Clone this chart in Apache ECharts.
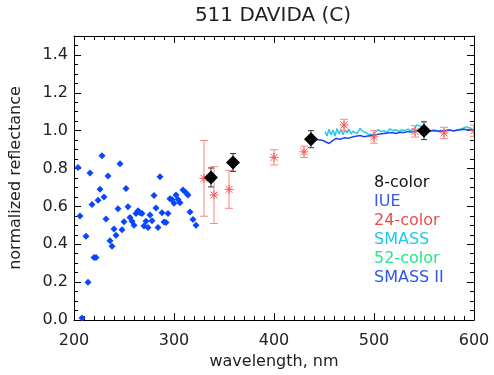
<!DOCTYPE html>
<html>
<head>
<meta charset="utf-8">
<script src="https://cdn.jsdelivr.net/npm/echarts@6/dist/echarts.min.js"></script>
<style>
  html, body { margin: 0; padding: 0; background: #fff; }
  #chart { width: 494px; height: 375px; }
</style>
</head>
<body>
<div id="chart"></div>
<script>
// IUE spectrum points (wavelength nm, normalized reflectance)
const iueWl = [204, 206, 208, 212, 214, 216, 218, 220, 222, 224, 226, 228, 230, 232, 234, 236, 238, 240,
  242, 244, 246, 248, 250, 252, 254, 256, 258, 260, 262, 264, 266, 268, 270, 272, 274, 276, 278, 280,
  282, 284, 286, 288, 290, 292, 294, 296, 298, 300, 302, 304, 306, 309, 312, 314, 316, 319, 322];
const iueRefl = [0.806, 0.549, 0.01, 0.443, 0.199, 0.777, 0.61, 0.33, 0.33, 0.633, 0.69, 0.867, 0.65, 0.533,
  0.76, 0.418, 0.39, 0.48, 0.447, 0.587, 0.825, 0.477, 0.519, 0.695, 0.598, 0.542, 0.522, 0.501, 0.563,
  0.577, 0.566, 0.563, 0.496, 0.522, 0.489, 0.554, 0.524, 0.658, 0.591, 0.489, 0.756, 0.566, 0.517,
  0.515, 0.563, 0.64, 0.637, 0.616, 0.66, 0.637, 0.619, 0.686, 0.672, 0.66, 0.571, 0.531, 0.501];

// 8-color photometry
const eightWl = [337, 359, 437, 550];
const eightRefl = [0.753, 0.832, 0.955, 1.0];
const eightErr = [0.05, 0.047, 0.045, 0.047];

// 24-color photometry
const c24Wl = [330, 340, 355, 400, 430, 470, 500, 541, 570, 600];
const c24Refl = [0.748, 0.66, 0.69, 0.859, 0.888, 1.03, 0.967, 0.996, 0.988, 1.0];
const c24Err = [0.2, 0.15, 0.1, 0.04, 0.03, 0.03, 0.033, 0.03, 0.03, 0.03];

// SMASS spectrum
const smassWl = [451, 453, 455, 457, 459, 461, 463, 465, 467, 469, 471, 473, 475, 477, 479, 481, 483, 486,
  489, 492, 495, 498, 501, 504, 507, 510, 513, 516, 519, 522, 525, 528, 531, 534, 537, 540, 543, 546,
  549, 552, 556, 560, 564, 568, 572, 576, 580, 584, 588, 592, 595, 598, 600];
const smassRefl = [0.995, 0.972, 1.008, 0.978, 1.002, 0.972, 1.012, 0.982, 1.008, 0.978, 1.003, 0.988, 1.008,
  0.982, 0.998, 1.004, 0.984, 1.012, 0.995, 0.99, 0.98, 0.978, 0.99, 1.005, 0.995, 1.0, 0.99, 1.01, 1.0,
  1.005, 0.995, 1.005, 1.0, 1.008, 1.0, 1.01, 1.03, 1.025, 1.02, 1.005, 0.995, 1.0, 0.995, 1.0, 1.0,
  1.002, 0.998, 1.005, 1.01, 1.02, 1.015, 1.005, 1.0];

// SMASS II spectrum
const smass2Wl = [437, 441, 445, 449, 452, 455, 458, 462, 466, 470, 474, 478, 482, 486, 490, 494, 498, 502,
  506, 510, 514, 518, 522, 526, 530, 534, 538, 542, 546, 550, 555, 560, 565, 570, 575, 580, 585, 590, 595, 600];
const smass2Refl = [0.962, 0.955, 0.952, 0.948, 0.94, 0.932, 0.945, 0.959, 0.955, 0.962, 0.96, 0.966, 0.97,
  0.974, 0.968, 0.972, 0.975, 0.978, 0.982, 0.985, 0.988, 0.99, 0.985, 0.992, 0.99, 0.995, 0.993, 0.998,
  1.005, 1.0, 0.998, 1.002, 0.997, 1.0, 1.003, 1.0, 1.004, 1.008, 1.003, 1.005];

const legendItems = ["8-color", "IUE", "24-color", "SMASS", "52-color", "SMASS II"];
const legendColors = ["#111111", "#3a5be0", "#f04848", "#22c8ea", "#22e888", "#2f55e8"];

const yTicks = [0, 0.2, 0.4, 0.6, 0.8, 1.0, 1.2, 1.4];

const font = "DejaVu Sans";
const zip = (a, b, c) => a.map((v, i) => (c ? [v, b[i], c[i]] : [v, b[i]]));

function errorBars(color, cap, star) {
  return function (params, api) {
    const x = api.value(0), y = api.value(1), e = api.value(2);
    const top = api.coord([x, y + e]);
    const bot = api.coord([x, y - e]);
    const mid = api.coord([x, y]);
    const st = { stroke: color, lineWidth: 1 };
    const kids = [
      { type: "line", shape: { x1: top[0], y1: top[1], x2: bot[0], y2: bot[1] }, style: st },
      { type: "line", shape: { x1: top[0] - cap, y1: top[1], x2: top[0] + cap, y2: top[1] }, style: st },
      { type: "line", shape: { x1: bot[0] - cap, y1: bot[1], x2: bot[0] + cap, y2: bot[1] }, style: st }
    ];
    if (star) {
      const r = 4.5, d = 3.5;
      const s2 = { stroke: "#ff5050", lineWidth: 1 };
      kids.push(
        { type: "line", shape: { x1: mid[0], y1: mid[1] - r, x2: mid[0], y2: mid[1] + r }, style: s2 },
        { type: "line", shape: { x1: mid[0] - r, y1: mid[1], x2: mid[0] + r, y2: mid[1] }, style: s2 },
        { type: "line", shape: { x1: mid[0] - d, y1: mid[1] - d, x2: mid[0] + d, y2: mid[1] + d }, style: s2 },
        { type: "line", shape: { x1: mid[0] - d, y1: mid[1] + d, x2: mid[0] + d, y2: mid[1] - d }, style: s2 }
      );
    }
    return { type: "group", children: kids };
  };
}

const axisCommon = {
  type: "value",
  axisLine: { show: true, onZero: false, lineStyle: { color: "#000", width: 1 } },
  axisTick: { show: true, inside: true, length: 7, lineStyle: { color: "#000" } },
  minorTick: { show: true, length: 4, lineStyle: { color: "#000" } },
  splitLine: { show: false },
  minorSplitLine: { show: false }
};

const chart = echarts.init(document.getElementById("chart"));
chart.setOption({
  animation: false,
  backgroundColor: "#fff",
  grid: { left: 73, right: 20, top: 36, bottom: 55 },
  xAxis: [
    Object.assign({}, axisCommon, {
      min: 200, max: 600, interval: 100,
      minorTick: Object.assign({}, axisCommon.minorTick, { splitNumber: 10 }),
      name: "wavelength, nm", nameLocation: "middle", nameGap: 26,
      nameTextStyle: { fontFamily: font, fontSize: 16, color: "#222" },
      axisLabel: { margin: 13, fontFamily: font, fontSize: 16, color: "#222" }
    }),
    Object.assign({}, axisCommon, {
      position: "top", min: 200, max: 600, interval: 100,
      minorTick: Object.assign({}, axisCommon.minorTick, { splitNumber: 10 }),
      axisLabel: { show: false }
    })
  ],
  yAxis: [
    Object.assign({}, axisCommon, {
      min: 0, max: 1.5, interval: 0.2,
      minorTick: Object.assign({}, axisCommon.minorTick, { splitNumber: 4 }),
      name: "normalized reflectance", nameLocation: "middle", nameGap: 50,
      nameTextStyle: { fontFamily: font, fontSize: 16, color: "#222" },
      axisLabel: {
        margin: 6, fontFamily: font, fontSize: 16, color: "#222", showMaxLabel: false,
        formatter: (v) => (yTicks.some((t) => Math.abs(t - v) < 1e-6) ? v.toFixed(1) : "")
      }
    }),
    Object.assign({}, axisCommon, {
      position: "right", min: 0, max: 1.5, interval: 0.2,
      minorTick: Object.assign({}, axisCommon.minorTick, { splitNumber: 4 }),
      axisLabel: { show: false }
    })
  ],
  graphic: [
    {
      type: "text", x: 273, y: 16,
      style: { text: "511 DAVIDA (C)", font: "20px " + font, fill: "#222", textAlign: "center", textVerticalAlign: "middle" }
    }
  ].concat(legendItems.map((t, i) => ({
    type: "text", x: 374, y: 183 + i * 19,
    style: { text: t, font: "16px " + font, fill: legendColors[i], textAlign: "left", textVerticalAlign: "middle" }
  }))),
  series: [
    {
      name: "IUE", type: "scatter", data: zip(iueWl, iueRefl),
      symbol: "diamond", symbolSize: 7, itemStyle: { color: "#0a46ff", opacity: 1 }, z: 2
    },
    {
      name: "SMASS", type: "line", data: zip(smassWl, smassRefl), showSymbol: false,
      lineStyle: { color: "#1ccdf0", width: 1.5 }, z: 3
    },
    {
      name: "SMASS II", type: "line", data: zip(smass2Wl, smass2Refl), showSymbol: false,
      lineStyle: { color: "#1f45ee", width: 1.5 }, z: 4
    },
    {
      name: "24-color", type: "custom", data: zip(c24Wl, c24Refl, c24Err),
      renderItem: errorBars("#f08a8a", 4, true), clip: true, z: 5
    },
    {
      name: "8-color err", type: "custom", data: zip(eightWl, eightRefl, eightErr),
      renderItem: errorBars("#333", 3, false), clip: true, z: 6
    },
    {
      name: "8-color", type: "scatter", data: zip(eightWl, eightRefl),
      symbol: "diamond", symbolSize: 14, itemStyle: { color: "#000", opacity: 1 }, z: 7
    }
  ]
});
</script>
</body>
</html>
